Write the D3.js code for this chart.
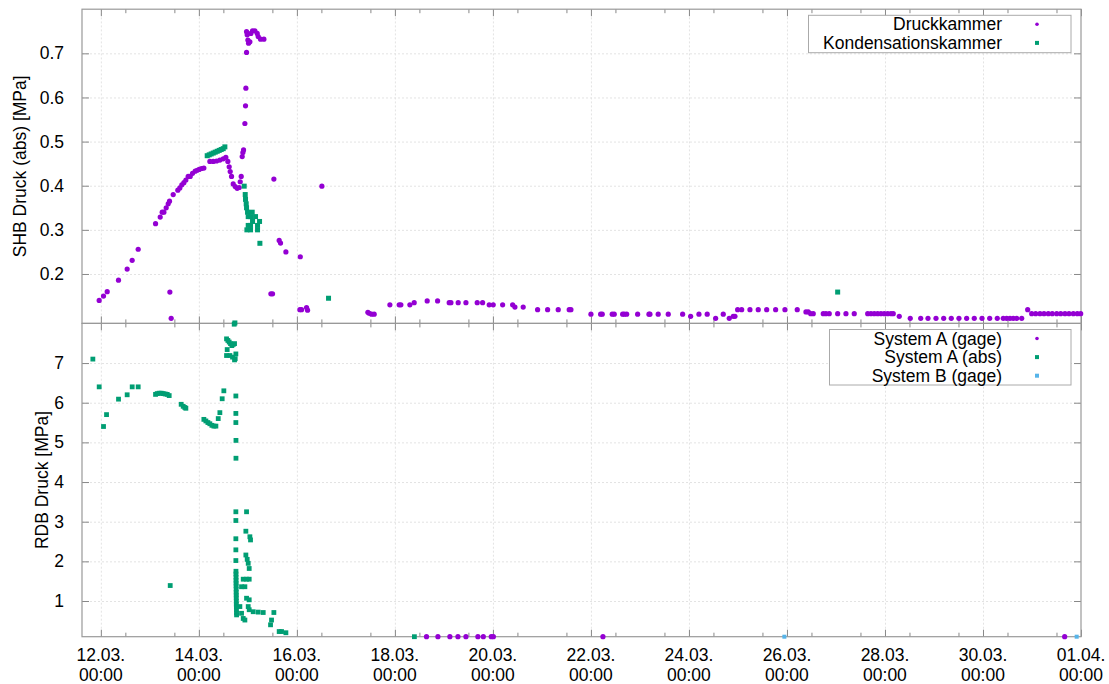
<!DOCTYPE html>
<html>
<head>
<meta charset="utf-8">
<script src="https://cdn.jsdelivr.net/npm/d3@7"></script>
<style>
  body { margin: 0; background: #fff; }
  text { font-family: "Liberation Sans", Arial, sans-serif; fill: #000; }
</style>
</head>
<body>
<svg id="chart"></svg>
<script>
// ---- data (time "DD HH:MM" in March 2011, value in MPa) ----
let druckkammer = [
  ["11 23:11",0.140],["12 01:18",0.150],["12 03:06",0.160],["12 08:38",0.186],["12 12:53",0.211],
  ["12 15:20",0.231],["12 18:17",0.256],["13 02:47",0.314],["13 05:04",0.329],["13 06:02",0.340],
  ["13 06:52",0.340],["13 08:00",0.350],["13 08:59",0.359],["13 09:38",0.365],["13 09:48",0.159],
  ["13 10:26",0.0995],["13 11:26",0.380],["13 13:42",0.390],["13 14:41",0.395],["13 15:40",0.402],
  ["13 16:39",0.407],["13 17:38",0.413],["13 18:46",0.421],["13 19:45",0.421],["13 20:54",0.428],
  ["13 22:12",0.433],["13 23:11",0.435],["14 00:10",0.437],["14 01:18",0.439],["14 02:27",0.440],
  ["14 05:23",0.455],["14 07:02",0.455],["14 08:40",0.456],["14 10:17",0.458],["14 11:55",0.461],
  ["14 13:13",0.464],["14 14:12",0.455],["14 14:51",0.443],["14 15:21",0.432],["14 16:00",0.421],
  ["14 16:49",0.404],["14 17:48",0.398],["14 18:46",0.394],["14 19:45",0.396],["14 20:15",0.409],
  ["14 20:44",0.421],["14 21:13",0.466],["14 21:33",0.475],["14 21:53",0.481],["14 22:32",0.541],
  ["14 22:51",0.581],["14 23:01",0.621],["14 23:21",0.702],["14 23:21",0.749],["14 23:40",0.742],
  ["15 00:00",0.730],["15 00:20",0.723],["15 00:59",0.726],["15 01:28",0.745],["15 02:17",0.751],
  ["15 03:26",0.751],["15 04:34",0.745],["15 05:04",0.738],["15 06:13",0.732],["15 07:51",0.732],
  ["15 11:16",0.155],["15 12:05",0.155],["15 12:44",0.415],["15 15:20",0.276],["15 16:00",0.270],
  ["15 18:37",0.250],["16 01:28",0.119],["16 01:40",0.239],["16 02:17",0.119],["16 04:44",0.124],
  ["16 05:14",0.118],["16 12:14",0.399],["17 10:46",0.113],["17 11:25",0.111],["17 12:34",0.109],
  ["17 13:52",0.109],["17 21:33",0.130],["18 02:06",0.130],["18 02:56",0.130],["18 07:20",0.130],
  ["18 09:27",0.135],["18 15:49",0.139],["18 20:54",0.139],["19 02:35",0.135],["19 03:26",0.135],
  ["19 07:00",0.135],["19 10:47",0.135],["19 16:19",0.135],["19 18:57",0.135],["19 22:11",0.130],
  ["20 00:09",0.130],["20 04:45",0.130],["20 09:39",0.130],["20 10:47",0.125],["20 14:50",0.125],
  ["20 21:53",0.119],["21 02:47",0.119],["21 07:59",0.119],["21 13:22",0.119],["21 14:12",0.119],
  ["22 00:00",0.109],["22 04:45",0.109],["22 05:32",0.109],["22 10:26",0.109],["22 11:25",0.109],
  ["22 15:32",0.109],["22 16:19",0.109],["22 17:30",0.109],["22 22:52",0.109],["23 04:25",0.109],
  ["23 04:54",0.109],["23 08:57",0.109],["23 13:52",0.109],["23 20:54",0.109],["24 00:50",0.104],
  ["24 04:54",0.109],["24 08:57",0.109],["24 13:05",0.0995],["24 16:48",0.109],["24 19:44",0.0995],
  ["24 21:42",0.104],["24 22:32",0.104],["24 23:50",0.119],["25 01:49",0.119],["25 05:53",0.119],
  ["25 09:56",0.119],["25 14:04",0.119],["25 18:27",0.119],["25 23:01",0.119],["26 05:02",0.119],
  ["26 09:18",0.114],["26 10:26",0.114],["26 11:37",0.110],["26 12:53",0.110],["26 17:47",0.110],
  ["26 19:06",0.110],["26 20:43",0.110],["27 00:50",0.110],["27 04:54",0.110],["27 08:57",0.110],
  ["27 15:32",0.110],["27 17:08",0.110],["27 18:46",0.110],["27 20:25",0.110],["27 22:02",0.110],
  ["27 23:40",0.110],["28 01:19",0.110],["28 02:56",0.110],["28 04:03",0.110],["28 07:00",0.104],
  ["28 12:23",0.0995],["28 17:30",0.0995],["28 21:04",0.0995],["29 00:59",0.0995],["29 04:45",0.0995],
  ["29 08:28",0.0995],["29 12:14",0.0995],["29 16:00",0.0995],["29 19:44",0.0995],["29 23:31",0.0995],
  ["30 03:17",0.0995],["30 07:00",0.0995],["30 09:56",0.0995],["30 11:35",0.0995],["30 13:13",0.0995],
  ["30 14:50",0.0995],["30 16:30",0.0995],["30 18:58",0.0995],["30 21:53",0.119],["30 23:51",0.110],
  ["31 01:49",0.110],["31 03:55",0.110],["31 05:53",0.110],["31 07:59",0.110],["31 09:56",0.110],
  ["31 12:06",0.110],["31 14:04",0.110],["31 16:09",0.110],["31 18:07",0.110],["31 20:14",0.110],
  ["31 22:12",0.110],["31 23:51",0.110]
];

let kondensationskammer = [
  ["14 04:05",0.468],["14 05:04",0.470],["14 06:02",0.472],["14 07:02",0.474],["14 08:00",0.476],
  ["14 08:59",0.478],["14 09:58",0.480],["14 10:56",0.482],["14 11:55",0.484],["14 12:44",0.488],
  ["14 17:38",0.089],["14 22:12",0.399],["14 22:42",0.380],["14 22:51",0.369],["14 23:11",0.359],
  ["14 23:21",0.350],["14 23:31",0.300],["14 23:50",0.340],["15 00:10",0.330],["15 00:10",0.310],
  ["15 01:18",0.330],["15 01:18",0.310],["15 01:18",0.300],["15 02:07",0.340],["15 02:17",0.319],
  ["15 03:45",0.330],["15 04:44",0.310],["15 04:44",0.300],["15 05:43",0.319],["15 05:53",0.2695],
  ["16 15:30",0.145],["27 00:50",0.159]
];

let systemAGage = [
  ["18 15:29",0.1],["18 21:04",0.1],["19 02:56",0.1],["19 06:52",0.1],["19 10:47",0.1],
  ["19 16:39",0.1],["19 19:18",0.1],["19 23:12",0.1],["20 00:14",0.1],["22 05:53",0.1],
  ["31 16:00",0.1]
];

let systemAAbs = [
  ["11 20:05",7.10],["11 23:11",6.40],["12 01:18",5.40],["12 02:47",5.70],["12 08:39",6.09],
  ["12 12:53",6.20],["12 15:21",6.40],["12 18:17",6.40],["13 02:47",6.21],["13 03:36",6.23],
  ["13 04:34",6.24],["13 05:33",6.24],["13 06:32",6.23],["13 07:31",6.22],["13 08:30",6.21],
  ["13 09:28",6.18],["13 09:58",1.39],["13 15:20",5.96],["13 16:19",5.91],["13 17:08",5.88],
  ["13 17:38",5.86],["14 02:27",5.58],["14 03:26",5.54],["14 04:25",5.50],["14 05:23",5.47],
  ["14 06:22",5.43],["14 07:21",5.41],["14 08:20",5.41],["14 09:29",5.60],["14 10:17",5.75],
  ["14 11:25",6.10],["14 12:14",6.30],["14 13:33",7.61],["14 13:52",7.34],["14 13:33",7.19],
  ["14 14:12",7.57],["14 14:51",7.53],["14 15:11",7.19],["14 15:30",7.49],["14 16:09",7.44],
  ["14 16:29",7.15],["14 16:49",7.47],["14 17:18",7.98],["14 17:28",7.49],["14 17:28",7.08],
  ["14 17:48",7.11],["14 18:07",7.23],["14 18:07",6.17],["14 18:07",5.73],["14 18:07",5.50],
  ["14 18:10",5.05],["14 18:10",4.60],["14 18:07",3.25],["14 18:07",3.03],["14 18:07",2.57],
  ["14 18:07",2.29],["14 18:07",2.02],["14 18:10",1.75],["14 18:10",1.68],["14 18:12",1.60],
  ["14 18:12",1.52],["14 18:14",1.45],["14 18:14",1.38],["14 18:16",1.30],["14 18:16",1.22],
  ["14 18:18",1.15],["14 18:18",1.08],["14 18:20",1.00],["14 18:20",0.92],["14 18:22",0.85],
  ["14 18:24",0.78],["14 18:26",0.70],["14 18:28",0.65],["14 20:05",0.86],["14 20:54",1.36],
  ["14 20:54",0.69],["14 21:43",1.55],["14 21:43",0.56],["14 22:32",1.36],["14 22:32",0.52],
  ["14 23:01",2.76],["14 23:01",2.16],["14 23:21",3.25],["14 23:21",1.55],["14 23:21",1.07],
  ["14 23:40",2.05],["15 00:10",1.95],["15 00:10",0.86],["15 00:39",1.82],["15 00:39",1.55],
  ["15 00:39",1.03],["15 00:39",0.78],["15 00:59",2.62],["15 01:18",2.54],["15 02:37",0.73],
  ["15 05:04",0.72],["15 07:31",0.71],["15 11:06",0.40],["15 11:35",0.52],["15 12:44",0.71],
  ["15 15:20",0.23],["15 16:29",0.23],["15 18:37",0.20],["18 09:33",0.1]
];

let systemBGage = [["25 22:44",0.1],["31 21:53",0.1]];

let topYTicks = [0.2, 0.3, 0.4, 0.5, 0.6, 0.7];
let bottomYTicks = [1, 2, 3, 4, 5, 6, 7];
let xMajorTicks = ["2011-03-12","2011-03-14","2011-03-16","2011-03-18","2011-03-20","2011-03-22",
                   "2011-03-24","2011-03-26","2011-03-28","2011-03-30","2011-04-01"];
let topLegend = ["Druckkammer", "Kondensationskammer"];
let bottomLegend = ["System A (gage)", "System A (abs)", "System B (gage)"];

// ---- layout ----
let width = 1109, height = 684;
let left = 82, right = 1081;
let topPanel = {y0: 9.2, y1: 323.4},
    botPanel = {y0: 323.4, y1: 636.7};

let purple = "#9400d3", green = "#009e73", blue = "#56b4e9";

let parseT = d3.timeParse("%Y-%m-%d %H:%M");
let parseDay = d3.timeParse("%Y-%m-%d");
function toDate(s) { return parseT("2011-03-" + s); }

let x = d3.scaleTime()
    .domain([parseT("2011-03-11 14:46"), parseT("2011-04-01 00:00")])
    .range([left, right]);

let yTop = d3.scaleLinear().domain([0.088, 0.80]).range([topPanel.y1, topPanel.y0]);
let yBot = d3.scaleLinear().domain([0.1, 8.0]).range([botPanel.y1, botPanel.y0]);

let majorDates = xMajorTicks.map(parseDay);
let minorDates = d3.timeHour.range(majorDates[0], new Date(+majorDates[majorDates.length - 1] + 1), 12)
    .filter(d => d.getHours() === 12);

let svg = d3.select('#chart')
    .attr('width', width)
    .attr('height', height);

svg.append('rect')
    .attr('width', width)
    .attr('height', height)
    .attr('fill', '#fff');

function drawPanel(panel, y, yTicks, fmt) {
    let g = svg.append('g');
    let h = panel.y1 - panel.y0;

    // grid
    g.append('g')
        .attr('transform', 'translate(0,' + panel.y1 + ')')
        .call(d3.axisBottom(x).tickValues(majorDates.slice(0, -1)).tickSize(-h).tickFormat(''))
        .call(s => s.select('.domain').remove())
        .selectAll('line')
        .attr('stroke', '#e3e3e3')
        .attr('stroke-dasharray', '2,2');

    g.append('g')
        .attr('transform', 'translate(' + left + ',0)')
        .call(d3.axisLeft(y).tickValues(yTicks).tickSize(-(right - left)).tickFormat(''))
        .call(s => s.select('.domain').remove())
        .selectAll('line')
        .attr('stroke', '#e3e3e3')
        .attr('stroke-dasharray', '2,2');

    // inward ticks on all four sides
    let tickCol = '#888';
    [[d3.axisBottom, panel.y1], [d3.axisTop, panel.y0]].forEach(function(p) {
        g.append('g')
            .attr('transform', 'translate(0,' + p[1] + ')')
            .call(p[0](x).tickValues(majorDates).tickSize(-7).tickFormat(''))
            .call(s => s.select('.domain').remove())
            .selectAll('line').attr('stroke', tickCol);
        g.append('g')
            .attr('transform', 'translate(0,' + p[1] + ')')
            .call(p[0](x).tickValues(minorDates).tickSize(-4).tickFormat(''))
            .call(s => s.select('.domain').remove())
            .selectAll('line').attr('stroke', tickCol);
    });

    let yl = g.append('g')
        .attr('transform', 'translate(' + left + ',0)')
        .call(d3.axisLeft(y).tickValues(yTicks).tickSize(-7).tickPadding(18).tickFormat(fmt));
    yl.select('.domain').remove();
    yl.selectAll('line').attr('stroke', tickCol);
    yl.selectAll('text')
        .style('font-family', '"Liberation Sans", Arial, sans-serif')
        .style('font-size', '17.5px')
        .attr('fill', '#000');

    g.append('g')
        .attr('transform', 'translate(' + right + ',0)')
        .call(d3.axisRight(y).tickValues(yTicks).tickSize(-7).tickFormat(''))
        .call(s => s.select('.domain').remove())
        .selectAll('line').attr('stroke', tickCol);

    // border
    g.append('rect')
        .attr('x', left)
        .attr('y', panel.y0)
        .attr('width', right - left)
        .attr('height', h)
        .attr('fill', 'none')
        .attr('stroke', '#999')
        .attr('stroke-width', 1.2);
    return g;
}

drawPanel(topPanel, yTop, topYTicks, d3.format('.1f'));
drawPanel(botPanel, yBot, bottomYTicks, d3.format('d'));

// x tick labels under the bottom panel, date and time as two lines
let xl = svg.append('g');
xl.selectAll('text.day')
    .data(majorDates)
    .enter()
    .append('text')
    .attr('class', 'day')
    .attr('x', d => x(d))
    .attr('y', 661)
    .attr('text-anchor', 'middle')
    .style('font-size', '17.5px')
    .text(d3.timeFormat('%d.%m.'));
xl.selectAll('text.time')
    .data(majorDates)
    .enter()
    .append('text')
    .attr('class', 'time')
    .attr('x', d => x(d))
    .attr('y', 680.5)
    .attr('text-anchor', 'middle')
    .style('font-size', '17.5px')
    .text(d3.timeFormat('%H:%M'));

// axis titles
svg.append('text')
    .attr('transform', 'translate(26,' + ((topPanel.y0 + topPanel.y1) / 2) + ') rotate(-90)')
    .attr('text-anchor', 'middle')
    .style('font-size', '17.5px')
    .text('SHB Druck (abs) [MPa]');

svg.append('text')
    .attr('transform', 'translate(48,' + ((botPanel.y0 + botPanel.y1) / 2) + ') rotate(-90)')
    .attr('text-anchor', 'middle')
    .style('font-size', '17.5px')
    .text('RDB Druck [MPa]');

// marks
function circles(data, y, col) {
    svg.append('g').selectAll('circle')
        .data(data)
        .enter()
        .append('circle')
        .attr('cx', d => x(toDate(d[0])))
        .attr('cy', d => y(d[1]))
        .attr('r', 2.6)
        .attr('fill', col);
}
function squares(data, y, col, s) {
    svg.append('g').selectAll('rect')
        .data(data)
        .enter()
        .append('rect')
        .attr('x', d => x(toDate(d[0])) - s / 2)
        .attr('y', d => y(d[1]) - s / 2)
        .attr('width', s)
        .attr('height', s)
        .attr('fill', col);
}

circles(druckkammer, yTop, purple);
squares(kondensationskammer, yTop, green, 5);
squares(systemAAbs, yBot, green, 4.8);
circles(systemAGage, yBot, purple);
squares(systemBGage, yBot, blue, 4);

// legends
function legend(items, cols, shapes, box) {
    let g = svg.append('g');
    g.append('rect')
        .attr('x', box.x)
        .attr('y', box.y)
        .attr('width', box.w)
        .attr('height', box.h)
        .attr('fill', '#fff')
        .attr('stroke', '#aaa');
    items.forEach(function(t, i) {
        let cy = box.y + 9 + i * 18.6;
        g.append('text')
            .attr('x', 1002)
            .attr('y', cy + 6)
            .attr('text-anchor', 'end')
            .style('font-size', '17.5px')
            .text(t);
        if (shapes[i] === 'c') {
            g.append('circle').attr('cx', 1037).attr('cy', cy).attr('r', 1.8).attr('fill', cols[i]);
        } else {
            g.append('rect').attr('x', 1035).attr('y', cy - 2).attr('width', 4).attr('height', 4).attr('fill', cols[i]);
        }
    });
}

legend(topLegend, [purple, green], ['c', 's'], {x: 808.5, y: 15.3, w: 262.5, h: 37.4});
legend(bottomLegend, [purple, green, blue], ['c', 's', 's'], {x: 829.5, y: 329.5, w: 241.5, h: 55.5});
</script>
</body>
</html>
